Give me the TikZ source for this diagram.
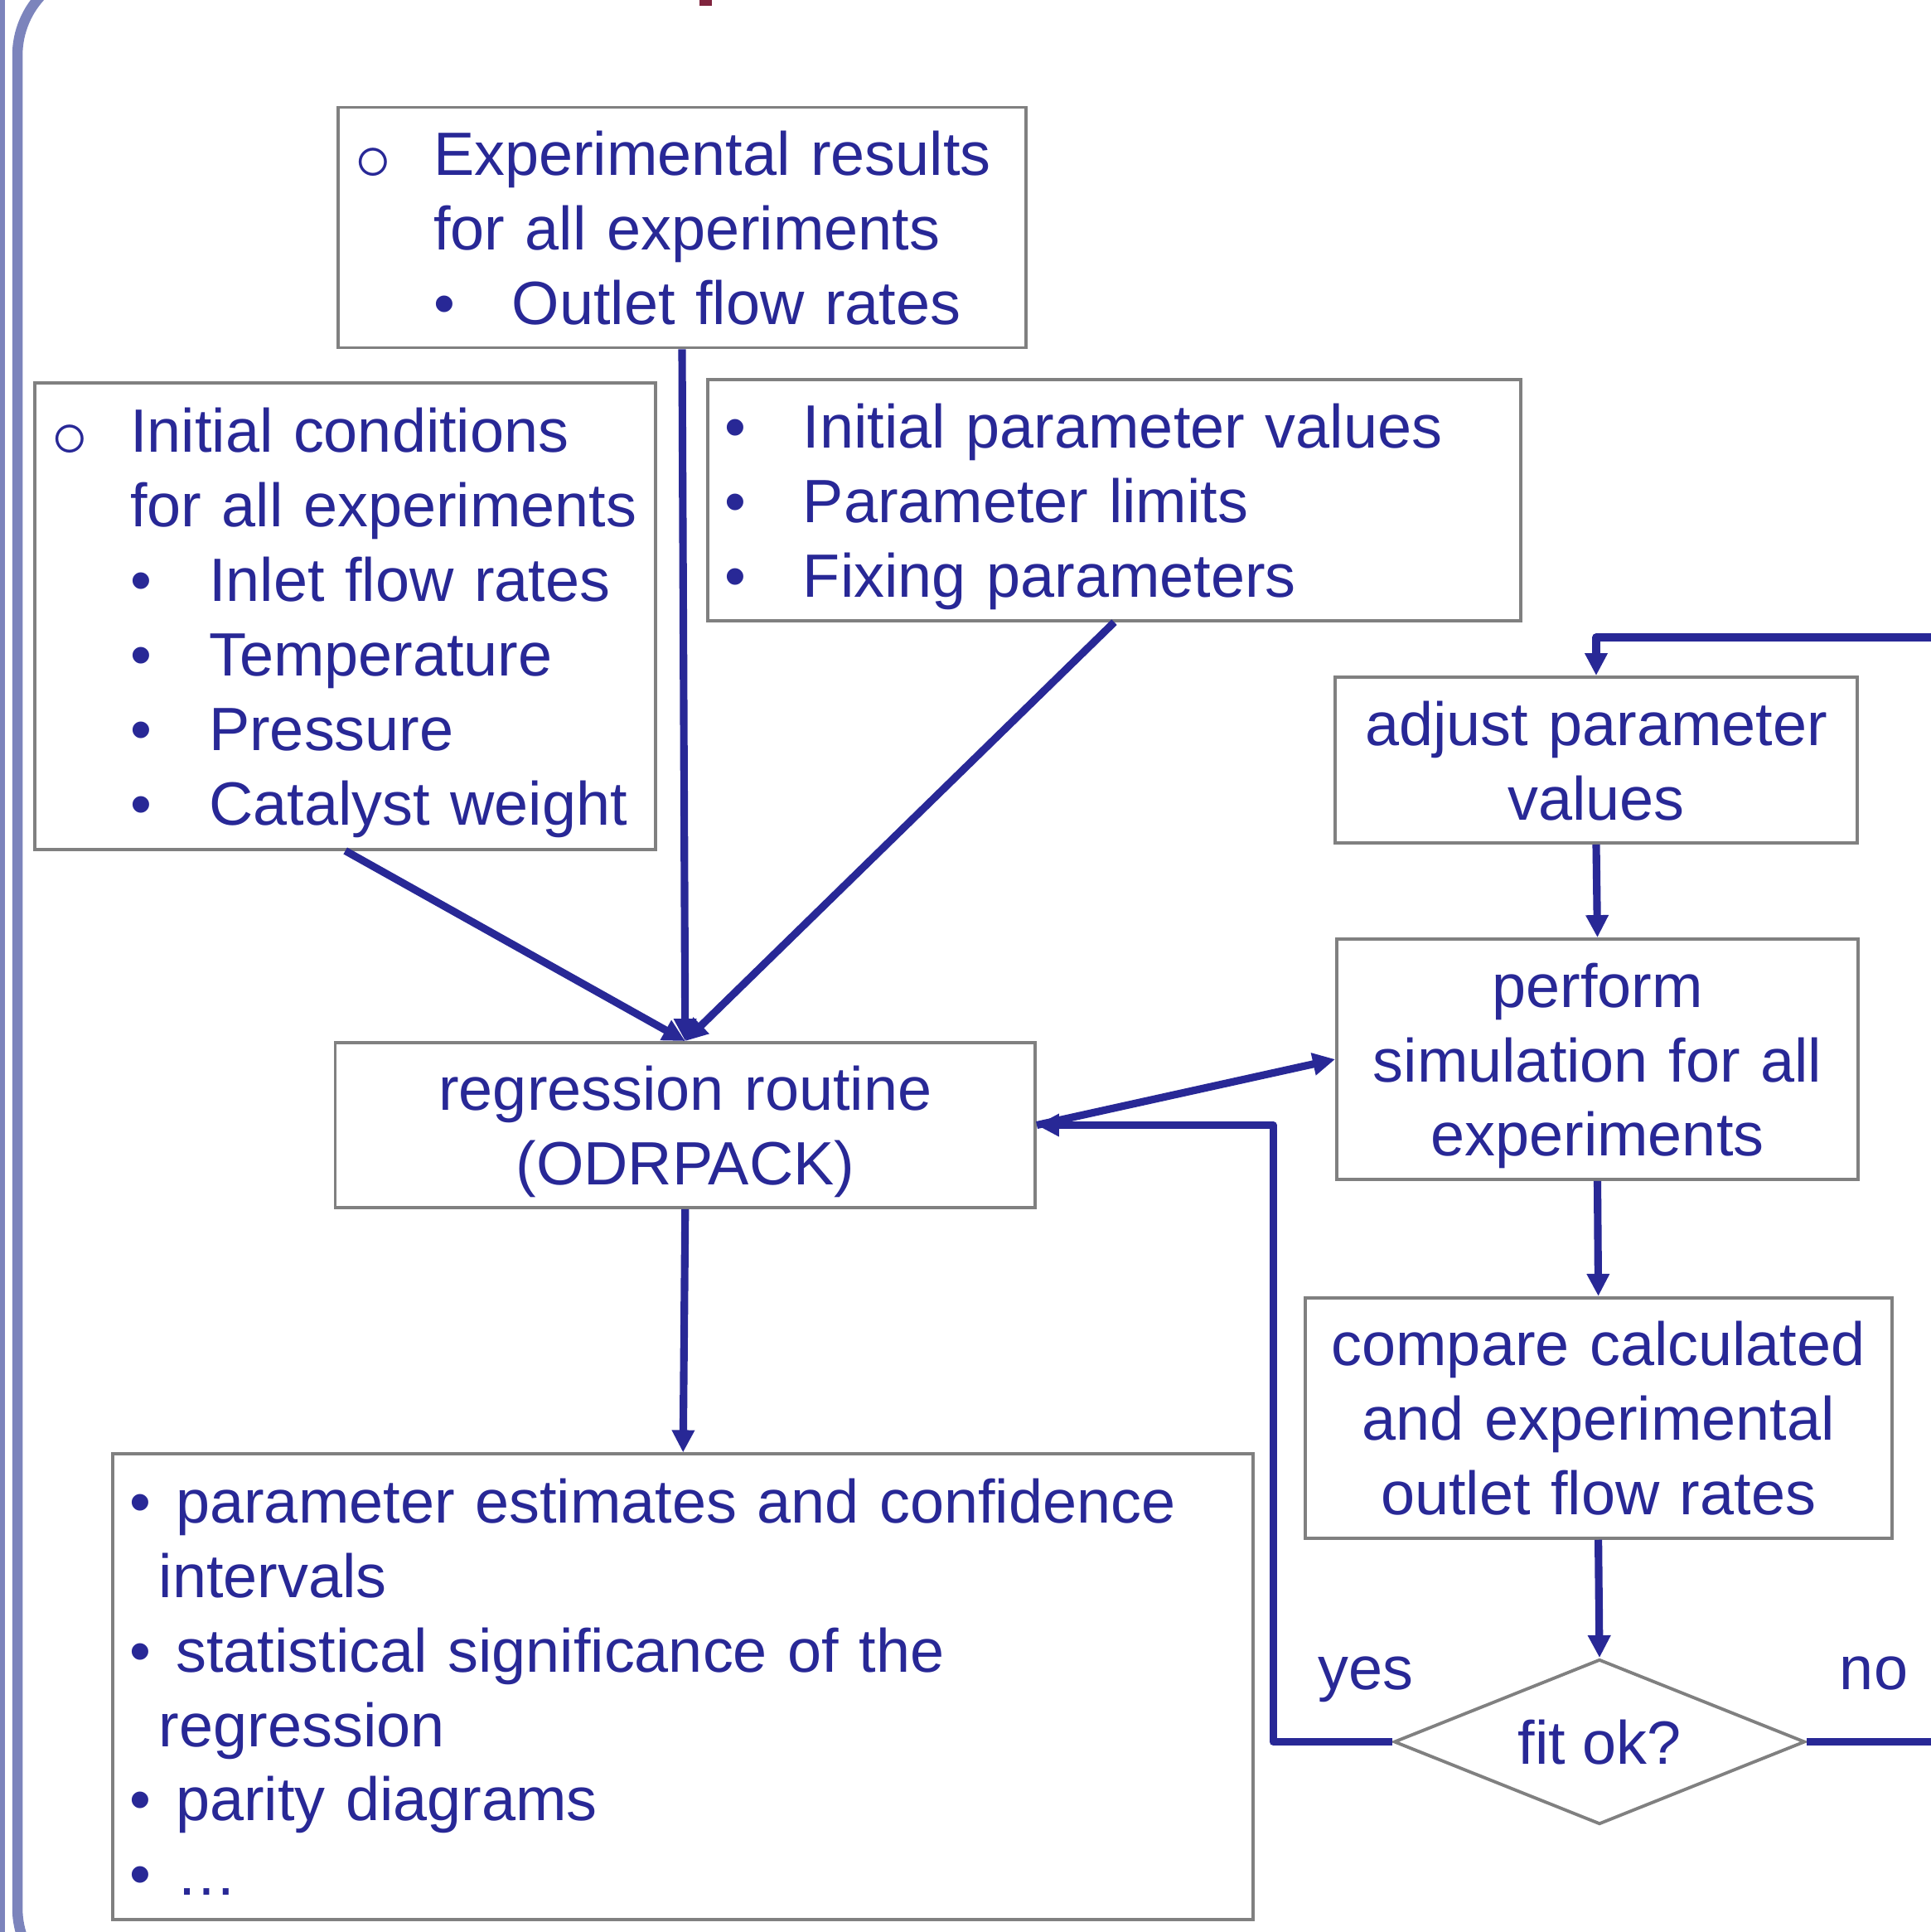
\documentclass[tikz,border=0pt]{standalone}
\usepackage{fontspec}
\setmainfont{Liberation Sans}
\usepackage{xcolor}
\usepackage{tikz}
\usetikzlibrary{arrows.meta,shapes.geometric}
\definecolor{textblue}{RGB}{40,40,150}
\definecolor{framelav}{RGB}{124,132,188}
\definecolor{titlered}{RGB}{128,36,62}
\newcommand{\flowfont}{\fontsize{21pt}{25.6pt}\selectfont}
\newcommand{\topst}{\rule{0pt}{0.72cm}}
\newcommand{\botst}{\rule[-0.18cm]{0pt}{0.18cm}}
\newcommand{\ring}{\raisebox{-0.06cm}{\fontsize{24pt}{24pt}\selectfont$\circ$}}
\newcommand{\lvlone}{\makebox[0.95cm][l]{\ring}}
\newcommand{\blt}{\makebox[0.95cm][l]{\textbullet}}
\newcommand{\sblt}{\makebox[0.56cm][l]{\textbullet}}
\newcommand{\ind}{\hspace*{0.95cm}}

\begin{document}
\begin{tikzpicture}[
    box/.style={draw=gray, line width=1.1pt, rectangle, inner xsep=0.2cm, inner ysep=0pt,
                text=textblue, font=\flowfont},
    listbox/.style={box, align=left},
    midbox/.style={box, align=center},
    decision/.style={draw=gray, line width=1.1pt, diamond, shape aspect=2.5, inner sep=0pt,
                     text=textblue, font=\flowfont},
    lbl/.style={text=textblue, font=\flowfont},
    link/.style={draw=textblue, line width=2.6pt, line join=round},
    flow/.style={link, -{Triangle[length=0.27cm,width=0.26cm]}}
]
\useasboundingbox (0,0) rectangle (23.30,-23.31);

% --- slide frame ---
\draw[framelav, line width=0.125cm] (0,0.5) -- (0,-24);
\draw[framelav, line width=0.125cm] (2.5,-24.08) -- (1.27,-24.08) arc(270:180:1.06)
    -- (0.21,-0.67) arc(180:90:1.06) -- (2.5,0.39);
\fill[titlered] (8.44,0.05) rectangle (8.587,-0.073);

% --- inputs ---
\node[listbox, minimum width=8.3cm, text width=7.9cm, minimum height=2.9cm] (results) at (8.23,-2.745)
    {\topst\lvlone Experimental results\\
     \ind for all experiments\\
     \ind\blt Outlet flow rates\botst};
\node[listbox, minimum width=7.49cm, text width=7.09cm, minimum height=5.625cm] (init) at (4.167,-7.433)
    {\topst\lvlone Initial conditions\\
     \ind for all experiments\\
     \ind\blt Inlet flow rates\\
     \ind\blt Temperature\\
     \ind\blt Pressure\\
     \ind\blt Catalyst weight\botst};
\node[listbox, minimum width=9.81cm, text width=9.41cm, minimum height=2.907cm] (params) at (13.445,-6.034)
    {\topst\blt Initial parameter values\\
     \blt Parameter limits\\
     \blt Fixing parameters\botst};

% --- regression ---
\node[midbox, minimum width=8.445cm, text width=8.045cm, minimum height=1.99cm] (reg) at (8.268,-13.575)
    {\topst regression routine\\ (ODRPACK)\botst};
\node[listbox, minimum width=13.756cm, text width=13.356cm, minimum height=5.613cm] (out) at (8.242,-20.35)
    {\topst\sblt parameter estimates and confidence\\
     \hspace*{0.356cm}intervals\\
     \sblt statistical significance of the\\
     \hspace*{0.356cm}regression\\
     \sblt parity diagrams\\
     \sblt …\botst};

% --- simulation loop ---
\node[midbox, minimum width=6.3cm, text width=5.9cm, minimum height=2cm] (adjust) at (19.26,-9.17)
    {\topst adjust parameter\\ values\botst};
\node[midbox, minimum width=6.29cm, text width=5.89cm, minimum height=2.9cm] (perform) at (19.275,-12.78)
    {\topst perform\\ simulation for all\\ experiments\botst};
\node[midbox, minimum width=7.08cm, text width=6.68cm, minimum height=2.9cm] (compare) at (19.286,-17.108)
    {\topst compare calculated\\ and experimental\\ outlet flow rates\botst};
\node[decision, minimum width=4.96cm, minimum height=1.99cm] (fit) at (19.30,-21.015)
    {\topst fit ok?\botst};
\node[lbl, anchor=base] (yes) at (16.48,-20.38) {yes};
\node[lbl, anchor=base] (no) at (22.61,-20.38) {no};

\coordinate (noend) at (23.6,-21.015);
\coordinate (loopin) at (23.6,-7.69);

% Connectors
\draw[flow] (results.south) -- (reg.north);
\draw[flow] (init.south) -- (reg.north);
\draw[flow] (params.south) -- (reg.north);
\draw[flow] (reg.south) -- (out.north);
\draw[flow] (reg.east) -- (perform.west);
\draw[flow] (adjust.south) -- (perform.north);
\draw[flow] (perform.south) -- (compare.north);
\draw[flow] (compare.south) -- (fit.north);
\draw[flow] (fit.west) -- ++(-1.44,0) |- (reg.east);
\draw[link] (fit.east) -- (noend);
\draw[flow] (loopin) -| (adjust.north);

\end{tikzpicture}
\end{document}
